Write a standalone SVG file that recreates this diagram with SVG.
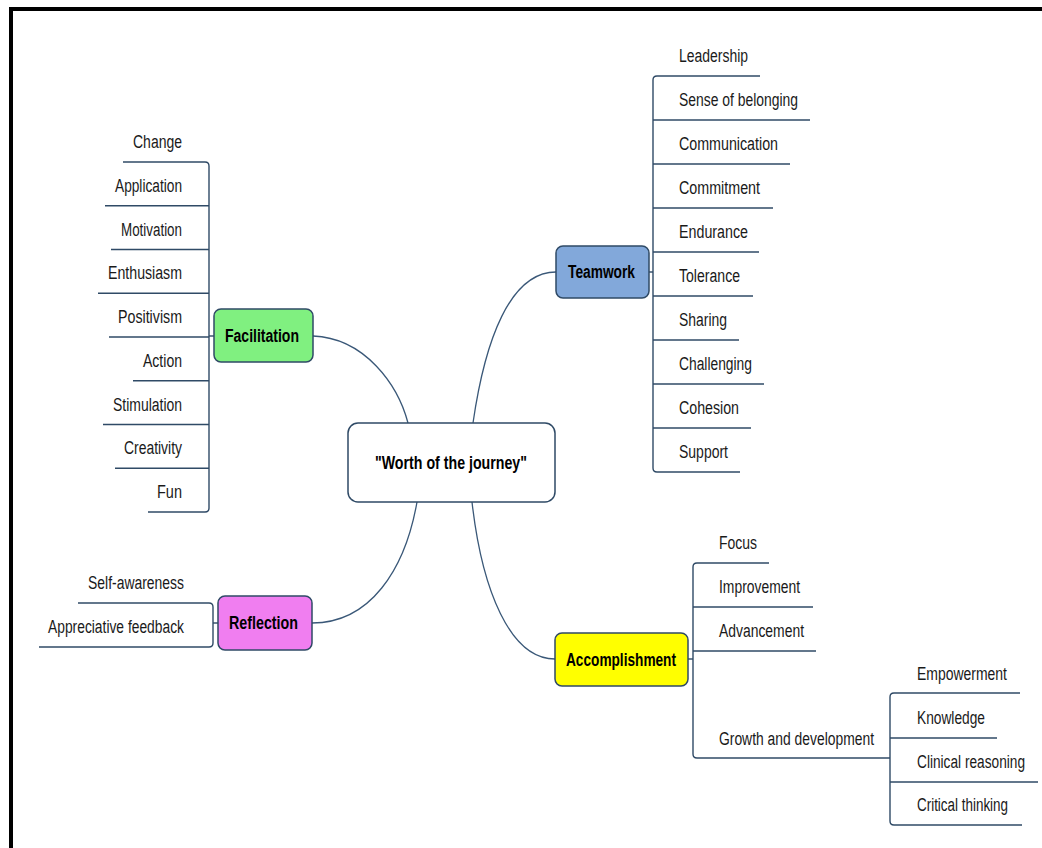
<svg xmlns="http://www.w3.org/2000/svg" width="1042" height="848" viewBox="0 0 1042 848">
<style>
.t{font-family:"Liberation Sans",Arial,sans-serif;font-size:18px;fill:#1a1a1a}
.b{font-family:"Liberation Sans",Arial,sans-serif;font-size:18px;font-weight:bold;fill:#000}
.n{stroke:#2f4a66;stroke-width:1.5}
.u{stroke:#2f4a66;stroke-width:1.4;fill:none}
.c{stroke:#3a5878;stroke-width:1.3;fill:none}
</style>
<rect x="0" y="0" width="1042" height="848" fill="#fff"/>
<g id="frame"><line x1="9" y1="9" x2="1042" y2="9" stroke="#000" stroke-width="4"/><line x1="11" y1="7" x2="11" y2="848" stroke="#000" stroke-width="4"/></g>
<g id="connectors">
<path class="c" d="M313,336 C365,338 398,385 408,423"/>
<path class="c" d="M473,423 C485,340 510,272 556,272"/>
<path class="c" d="M417,502 C405,570 370,623 312,623"/>
<path class="c" d="M472,502 C482,590 510,659 555,659"/>
<path class="u" d="M649,272 H653"/>
<path class="u" d="M657,76 Q653,76 653,80 V468 Q653,472 657,472"/>
<path class="u" d="M214,336 H209"/>
<path class="u" d="M205,162 Q209,162 209,166 V508 Q209,512 205,512"/>
<path class="u" d="M218,623 H213"/>
<path class="u" d="M209,603 Q213,603 213,607 V643 Q213,647 209,647"/>
<path class="u" d="M688,659 H693"/>
<path class="u" d="M697,563 Q693,563 693,567 V754 Q693,758 697,758"/>
<path class="u" d="M894,693 Q890,693 890,697 V821 Q890,825 894,825"/>
</g>
<g id="center"><rect class="n" x="348" y="423" width="207" height="79" rx="10" fill="#fff"/><text class="b" x="375" y="469" textLength="152" lengthAdjust="spacingAndGlyphs">"Worth of the journey"</text></g>
<g id="facilitation"><rect class="n" x="214" y="309" width="99" height="53" rx="7" fill="#80f080"/><text class="b" x="225" y="342" textLength="74" lengthAdjust="spacingAndGlyphs">Facilitation</text></g>
<g id="teamwork"><rect class="n" x="556" y="246" width="93" height="52" rx="7" fill="#82a8da"/><text class="b" x="568" y="278" textLength="67" lengthAdjust="spacingAndGlyphs">Teamwork</text></g>
<g id="reflection"><rect class="n" x="218" y="596" width="94" height="54" rx="7" fill="#f07ef0"/><text class="b" x="229" y="629" textLength="69" lengthAdjust="spacingAndGlyphs">Reflection</text></g>
<g id="accomplishment"><rect class="n" x="555" y="633" width="133" height="53" rx="7" fill="#ffff00"/><text class="b" x="566" y="666" textLength="110" lengthAdjust="spacingAndGlyphs">Accomplishment</text></g>
<g id="f-change"><line class="u" x1="123" y1="162" x2="205" y2="162"/><text class="t" x="133" y="148" textLength="49" lengthAdjust="spacingAndGlyphs">Change</text></g>
<g id="f-application"><line class="u" x1="105" y1="205.75" x2="209" y2="205.75"/><text class="t" x="115" y="191.75" textLength="67" lengthAdjust="spacingAndGlyphs">Application</text></g>
<g id="f-motivation"><line class="u" x1="111" y1="249.5" x2="209" y2="249.5"/><text class="t" x="121" y="235.5" textLength="61" lengthAdjust="spacingAndGlyphs">Motivation</text></g>
<g id="f-enthusiasm"><line class="u" x1="98" y1="293.25" x2="209" y2="293.25"/><text class="t" x="108" y="279.25" textLength="74" lengthAdjust="spacingAndGlyphs">Enthusiasm</text></g>
<g id="f-positivism"><line class="u" x1="109" y1="337" x2="209" y2="337"/><text class="t" x="118" y="323" textLength="64" lengthAdjust="spacingAndGlyphs">Positivism</text></g>
<g id="f-action"><line class="u" x1="133" y1="380.75" x2="209" y2="380.75"/><text class="t" x="143" y="366.75" textLength="39" lengthAdjust="spacingAndGlyphs">Action</text></g>
<g id="f-stimulation"><line class="u" x1="103" y1="424.5" x2="209" y2="424.5"/><text class="t" x="113" y="410.5" textLength="69" lengthAdjust="spacingAndGlyphs">Stimulation</text></g>
<g id="f-creativity"><line class="u" x1="115" y1="468.25" x2="209" y2="468.25"/><text class="t" x="124" y="454.25" textLength="58" lengthAdjust="spacingAndGlyphs">Creativity</text></g>
<g id="f-fun"><line class="u" x1="148" y1="512" x2="205" y2="512"/><text class="t" x="157" y="498" textLength="25" lengthAdjust="spacingAndGlyphs">Fun</text></g>
<g id="t-leadership"><line class="u" x1="657" y1="76" x2="760" y2="76"/><text class="t" x="679" y="62" textLength="69" lengthAdjust="spacingAndGlyphs">Leadership</text></g>
<g id="t-belonging"><line class="u" x1="653" y1="120" x2="810" y2="120"/><text class="t" x="679" y="106" textLength="119" lengthAdjust="spacingAndGlyphs">Sense of belonging</text></g>
<g id="t-communication"><line class="u" x1="653" y1="164" x2="790" y2="164"/><text class="t" x="679" y="150" textLength="99" lengthAdjust="spacingAndGlyphs">Communication</text></g>
<g id="t-commitment"><line class="u" x1="653" y1="208" x2="773" y2="208"/><text class="t" x="679" y="194" textLength="81" lengthAdjust="spacingAndGlyphs">Commitment</text></g>
<g id="t-endurance"><line class="u" x1="653" y1="252" x2="759" y2="252"/><text class="t" x="679" y="238" textLength="69" lengthAdjust="spacingAndGlyphs">Endurance</text></g>
<g id="t-tolerance"><line class="u" x1="653" y1="296" x2="753" y2="296"/><text class="t" x="679" y="282" textLength="61" lengthAdjust="spacingAndGlyphs">Tolerance</text></g>
<g id="t-sharing"><line class="u" x1="653" y1="340" x2="739" y2="340"/><text class="t" x="679" y="326" textLength="48" lengthAdjust="spacingAndGlyphs">Sharing</text></g>
<g id="t-challenging"><line class="u" x1="653" y1="384" x2="764" y2="384"/><text class="t" x="679" y="370" textLength="73" lengthAdjust="spacingAndGlyphs">Challenging</text></g>
<g id="t-cohesion"><line class="u" x1="653" y1="428" x2="751" y2="428"/><text class="t" x="679" y="414" textLength="60" lengthAdjust="spacingAndGlyphs">Cohesion</text></g>
<g id="t-support"><line class="u" x1="657" y1="472" x2="740" y2="472"/><text class="t" x="679" y="458" textLength="49" lengthAdjust="spacingAndGlyphs">Support</text></g>
<g id="r-self"><line class="u" x1="78" y1="603" x2="209" y2="603"/><text class="t" x="88" y="589" textLength="96" lengthAdjust="spacingAndGlyphs">Self-awareness</text></g>
<g id="r-feedback"><line class="u" x1="39" y1="647" x2="209" y2="647"/><text class="t" x="48" y="633" textLength="136" lengthAdjust="spacingAndGlyphs">Appreciative feedback</text></g>
<g id="a-focus"><line class="u" x1="697" y1="563" x2="769" y2="563"/><text class="t" x="719" y="549" textLength="38" lengthAdjust="spacingAndGlyphs">Focus</text></g>
<g id="a-improvement"><line class="u" x1="693" y1="607" x2="813" y2="607"/><text class="t" x="719" y="593" textLength="81" lengthAdjust="spacingAndGlyphs">Improvement</text></g>
<g id="a-advancement"><line class="u" x1="693" y1="651" x2="816" y2="651"/><text class="t" x="719" y="637" textLength="85" lengthAdjust="spacingAndGlyphs">Advancement</text></g>
<g id="a-growth"><line class="u" x1="697" y1="758" x2="890" y2="758"/><text class="t" x="719" y="745" textLength="155" lengthAdjust="spacingAndGlyphs">Growth and development</text></g>
<g id="g-empowerment"><line class="u" x1="894" y1="693" x2="1020" y2="693"/><text class="t" x="917" y="680" textLength="90" lengthAdjust="spacingAndGlyphs">Empowerment</text></g>
<g id="g-knowledge"><line class="u" x1="890" y1="738" x2="997" y2="738"/><text class="t" x="917" y="724" textLength="68" lengthAdjust="spacingAndGlyphs">Knowledge</text></g>
<g id="g-clinical"><line class="u" x1="890" y1="782" x2="1038" y2="782"/><text class="t" x="917" y="768" textLength="108" lengthAdjust="spacingAndGlyphs">Clinical reasoning</text></g>
<g id="g-critical"><line class="u" x1="894" y1="825" x2="1022" y2="825"/><text class="t" x="917" y="811" textLength="91" lengthAdjust="spacingAndGlyphs">Critical thinking</text></g>
</svg>
